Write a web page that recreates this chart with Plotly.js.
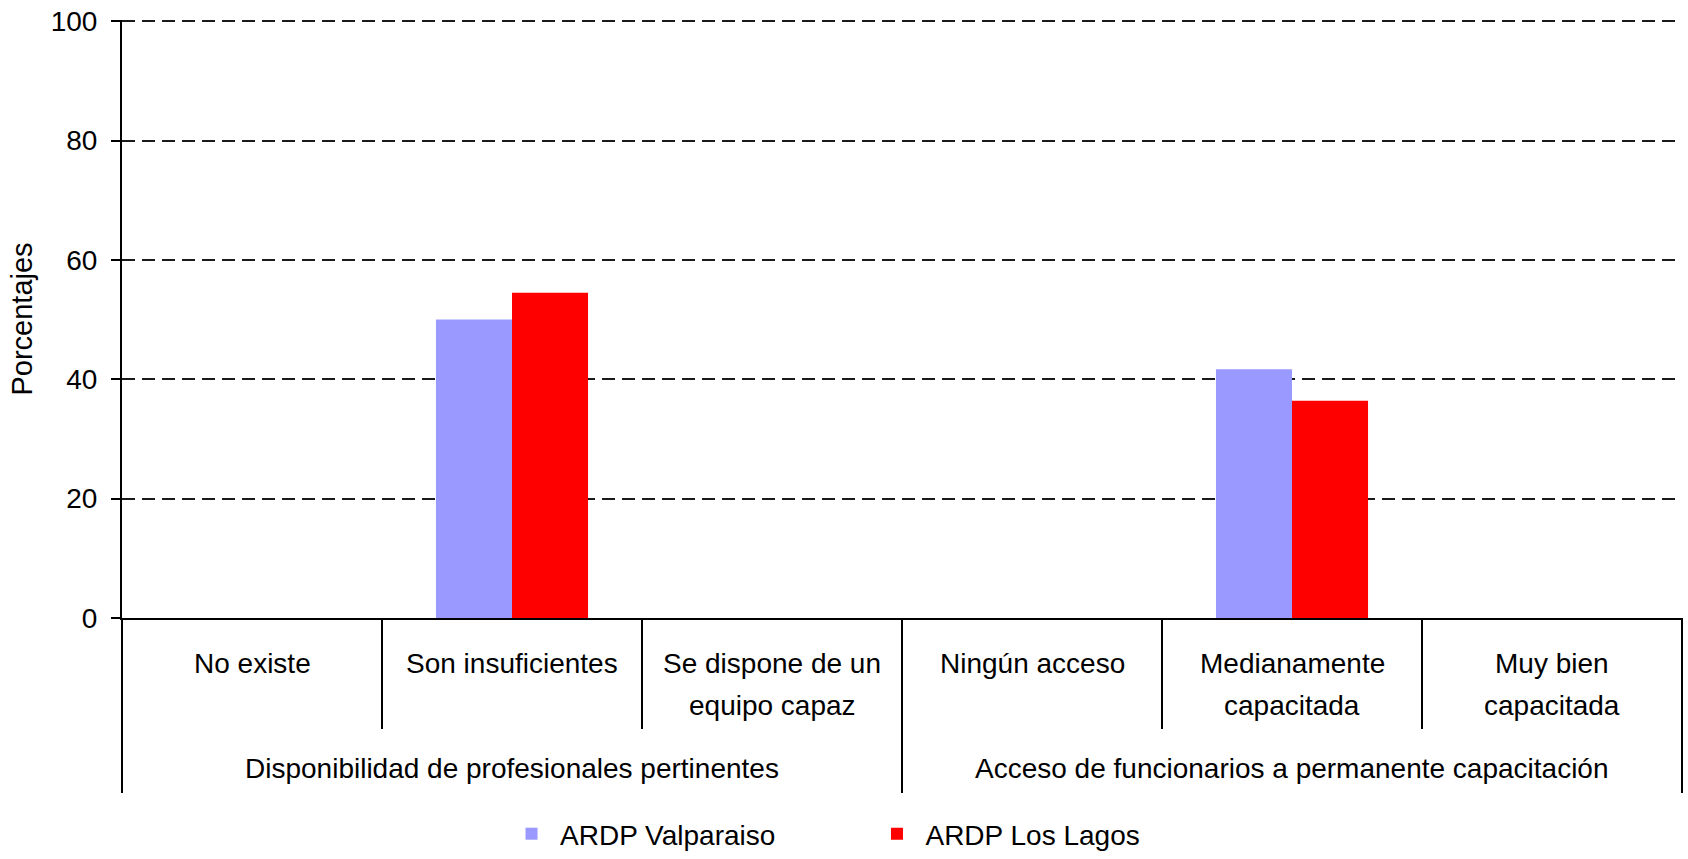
<!DOCTYPE html>
<html>
<head>
<meta charset="utf-8">
<script src="https://cdn.plot.ly/plotly-3.0.1.min.js"></script>
<style>html,body{margin:0;padding:0;background:#fff;}#chart{width:1688px;height:859px;}</style>
</head>
<body>
<div id="chart"></div>
<script>
// ---- data ----
var categories = ['No existe', 'Son insuficientes', 'Se dispone de un equipo capaz', 'Ningún acceso', 'Medianamente capacitada', 'Muy bien capacitada'];
var categoryLabels = [['No existe'], ['Son insuficientes'], ['Se dispone de un', 'equipo capaz'], ['Ningún acceso'], ['Medianamente', 'capacitada'], ['Muy bien', 'capacitada']];
var groups = ['Disponibilidad de profesionales pertinentes', 'Acceso de funcionarios a permanente capacitación'];
var groupMembers = [[0, 1, 2], [3, 4, 5]];
var seriesNames = ['ARDP Valparaiso', 'ARDP Los Lagos'];
var valparaiso = [0, 50.0, 0, 0, 41.7, 0];
var losLagos = [0, 54.5, 0, 0, 36.4, 0];
var yTicks = [0, 20, 40, 60, 80, 100];
var yTitle = 'Porcentajes';

// ---- layout helpers ----
var FONT = 'Liberation Sans, Arial, Helvetica, sans-serif';
var FS = 28;
var idx = categories.map(function (c, i) { return i; });

var traces = [
  {type: 'bar', name: seriesNames[0], x: idx, y: valparaiso, marker: {color: '#9999FF', line: {width: 0}}, legend: 'legend'},
  {type: 'bar', name: seriesNames[1], x: idx, y: losLagos, marker: {color: '#FF0000', line: {width: 0}}, legend: 'legend2'}
];

var annotations = [];
var row1 = -0.0753, rowStep = -0.0702;
categoryLabels.forEach(function (lines, i) {
  lines.forEach(function (ln, j) {
    annotations.push({xref: 'x', yref: 'paper', x: i, y: row1 + j * rowStep, text: ln,
      showarrow: false, xanchor: 'center', yanchor: 'middle', font: {family: FONT, size: FS, color: '#000'}});
  });
});
groups.forEach(function (g, k) {
  var m = groupMembers[k];
  annotations.push({xref: 'x', yref: 'paper', x: (m[0] + m[m.length - 1]) / 2, y: -0.2525, text: g,
    showarrow: false, xanchor: 'center', yanchor: 'middle', font: {family: FONT, size: FS, color: '#000'}});
});

var shapes = [];
var innerBottom = -0.1856, outerBottom = -0.2926;
var lineStyle = {color: '#000', width: 2};
// inner dividers between sub-categories
groupMembers.forEach(function (m) {
  for (var k = 0; k < m.length - 1; k++) {
    shapes.push({type: 'line', xref: 'x', yref: 'paper', x0: m[k] + 0.5, x1: m[k] + 0.5, y0: 0, y1: innerBottom, line: lineStyle});
  }
});
// group dividers
shapes.push({type: 'line', xref: 'paper', yref: 'paper', x0: 0, x1: 0, y0: 0, y1: outerBottom, line: lineStyle});
shapes.push({type: 'line', xref: 'x', yref: 'paper', x0: groupMembers[0][2] + 0.5, x1: groupMembers[0][2] + 0.5, y0: 0, y1: outerBottom, line: lineStyle});
shapes.push({type: 'line', xref: 'paper', yref: 'paper', x0: 1, x1: 1, y0: 0, y1: outerBottom, line: lineStyle});

var legendCommon = {orientation: 'h', xref: 'container', yref: 'container', xanchor: 'left', yanchor: 'bottom',
  y: 0.0, itemwidth: 47, font: {family: FONT, size: FS, color: '#000'}, bgcolor: 'rgba(0,0,0,0)'};

var layout = {
  width: 1688, height: 859,
  margin: {l: 122, r: 6, t: 20, b: 241, autoexpand: false},
  paper_bgcolor: '#fff', plot_bgcolor: '#fff',
  font: {family: FONT, size: FS, color: '#000'},
  bargap: 0.415, bargroupgap: 0, barmode: 'group',
  xaxis: {
    type: 'linear', range: [-0.5, categories.length - 0.5],
    showticklabels: false, ticks: '', showgrid: false, zeroline: false,
    showline: true, linecolor: '#000', linewidth: 2, fixedrange: true
  },
  yaxis: {
    range: [0, 100.2], tickvals: yTicks, ticktext: yTicks.map(String),
    ticks: 'outside', ticklen: 9, tickwidth: 2, tickcolor: '#000',
    ticklabelstandoff: 8,
    showline: true, linecolor: '#000', linewidth: 2,
    showgrid: true, gridcolor: '#1a1a1a', gridwidth: 2, griddash: '13px,7px',
    zeroline: false,
    tickfont: {family: FONT, size: FS, color: '#000'},
    title: {text: yTitle, font: {family: FONT, size: 29, color: '#000'}, standoff: 10},
    fixedrange: true
  },
  showlegend: true,
  legend: Object.assign({}, legendCommon, {x: 0.298}),
  legend2: Object.assign({}, legendCommon, {x: 0.5145}),
  annotations: annotations,
  shapes: shapes
};

Plotly.newPlot('chart', traces, layout, {displayModeBar: false, staticPlot: true});
</script>
</body>
</html>
